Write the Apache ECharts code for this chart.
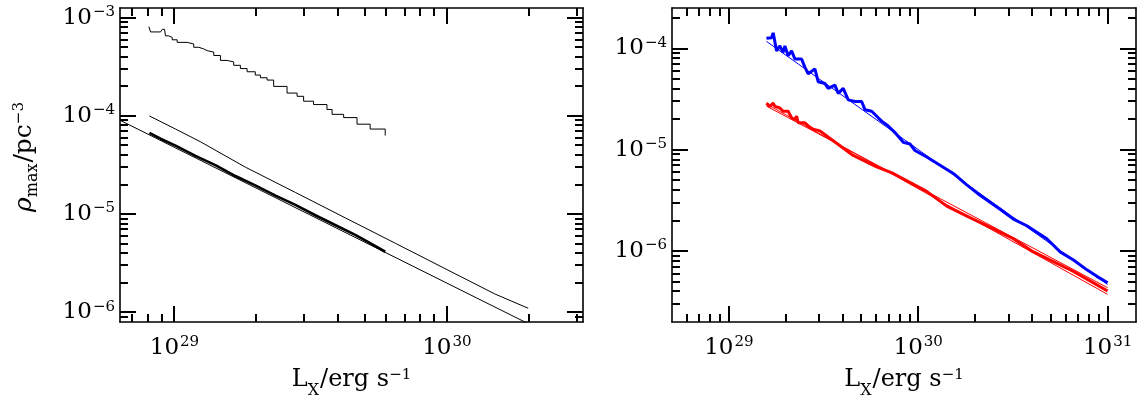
<!DOCTYPE html>
<html><head><meta charset="utf-8">
<script src="https://cdn.jsdelivr.net/npm/echarts@6/dist/echarts.min.js"></script>
<style>html,body{margin:0;padding:0;background:#fff}#c{width:1138px;height:404px}</style>
</head><body><div id="c"></div>
<script>
const FONT = 'DejaVu Serif';

// ---------- Left panel data (L_X [erg/s], rho_max [pc^-3]) ----------
const leftTopCurve = [
 [8.05e28,8.13e-4],[8.17e28,7.18e-4],[8.89e28,7.18e-4],[9.02e28,7.64e-4],[9.19e28,7.76e-4],
 [9.27e28,6.55e-4],[9.53e28,6.31e-4],[9.81e28,5.97e-4],[1.023e29,5.62e-4],[1.113e29,5.41e-4],
 [1.177e29,5.01e-4],[1.228e29,4.82e-4],[1.28e29,4.63e-4],[1.318e29,4.47e-4],[1.394e29,4.13e-4],
 [1.475e29,3.68e-4],[1.561e29,3.55e-4],[1.65e29,3.28e-4],[1.746e29,3.04e-4],[1.848e29,2.82e-4],
 [1.98e29,2.61e-4],[2.068e29,2.45e-4],[2.188e29,2.32e-4],[2.313e29,2.0e-4],[2.59e29,1.71e-4],
 [2.82e29,1.585e-4],[2.98e29,1.413e-4],[3.24e29,1.306e-4],[3.63e29,1.164e-4],[3.79e29,1.038e-4],
 [4.18e29,9.62e-5],[4.68e29,8.24e-5],[5.23e29,7.35e-5],[5.94e29,6.31e-5]
];
const leftMidCurve = [
 [8.09e28,1.0e-4],[1.009e29,7.35e-5],[1.245e29,5.46e-5],[1.82e29,3.01e-5],[2.78e29,1.66e-5],
 [4.24e29,9.14e-6],[6.47e29,5.04e-6],[9.85e29,2.78e-6],[1.50e30,1.535e-6],[1.99e30,1.096e-6]
];
const leftThickCurve = [
 [8.09e28,6.73e-5],[8.89e28,5.86e-5],[1.009e29,4.99e-5],[1.194e29,3.92e-5],[1.413e29,3.15e-5],
 [1.674e29,2.44e-5],[1.98e29,1.963e-5],[2.35e29,1.542e-5],[2.78e29,1.239e-5],[3.29e29,9.73e-6],
 [3.89e29,7.73e-6],[4.61e29,6.14e-6],[5.23e29,5.05e-6],[5.94e29,4.13e-6]
];
const leftFitLine = [[6.31e28,9.04e-5],[2.0e30,7.59e-7]];

// ---------- Right panel data ----------
const ipsCurve = [
 [1.58e29,1.26e-4],[1.682e29,1.278e-4],[1.715e29,1.428e-4],[1.75e29,1.375e-4],[1.787e29,9.48e-5],
 [1.86e29,1.06e-4],[1.936e29,9.15e-5],[1.977e29,1.06e-4],[2.058e29,8.48e-5],[2.145e29,9.48e-5],
 [2.233e29,7.88e-5],[2.423e29,7.88e-5],[2.52e29,6.55e-5],[2.625e29,5.64e-5],[2.848e29,6.30e-5],
 [2.965e29,4.69e-5],[3.217e29,4.51e-5],[3.348e29,4.04e-5],[3.633e29,4.35e-5],[3.782e29,3.61e-5],
 [4.019e29,4.04e-5],[4.272e29,3.11e-5],[4.634e29,3.00e-5],[5.028e29,3.00e-5],[5.233e29,2.49e-5],
 [5.68e29,2.40e-5],[6.153e29,2.07e-5],[6.414e29,1.92e-5],[6.95e29,1.72e-5],[7.54e29,1.48e-5],
 [8.34e29,1.185e-5],[9.05e29,1.14e-5],[9.62e29,9.84e-6],[1.109e30,8.48e-6],[1.304e30,7.05e-6],
 [1.532e30,5.84e-6],[1.805e30,4.51e-6],[2.121e30,3.56e-6],[2.706e30,2.585e-6],[3.18e30,2.07e-6],
 [3.745e30,1.78e-6],[4.778e30,1.324e-6],[5.618e30,9.82e-7],[6.604e30,8.16e-7],[7.775e30,6.53e-7],
 [8.779e30,5.63e-7],[1.0e31,4.86e-7]
];
const polarsCurve = [
 [1.58e29,2.89e-5],[1.647e29,2.68e-5],[1.715e29,2.89e-5],[1.75e29,2.68e-5],[1.86e29,2.585e-5],
 [1.936e29,2.40e-5],[2.058e29,2.40e-5],[2.145e29,2.07e-5],[2.233e29,1.99e-5],[2.28e29,2.15e-5],
 [2.325e29,1.85e-5],[2.52e29,1.85e-5],[2.625e29,1.72e-5],[2.79e29,1.593e-5],[3.027e29,1.537e-5],
 [3.558e29,1.23e-5],[4.539e29,8.80e-6],[6.035e29,6.79e-6],[7.387e29,5.84e-6],[1.109e30,3.89e-6],
 [1.415e30,2.78e-6],[1.878e30,2.14e-6],[2.494e30,1.655e-6],[3.18e30,1.324e-6],[4.057e30,9.82e-7],
 [5.178e30,7.86e-7],[6.604e30,6.29e-7],[8.424e30,4.86e-7],[1.0e31,4.03e-7]
];
const ipsFit = [[1.58e29,1.177e-4],[1.0e31,4.68e-7]];
const polarsFitA = [[1.58e29,2.70e-5],[1.0e31,4.35e-7]];
const polarsFitB = [[1.58e29,2.83e-5],[1.0e31,3.74e-7]];

const seriesNames = ['IPs', 'Polars'];

// ---------- Axes ranges & ticks ----------
const leftXRange = [Math.pow(10, 28.8), Math.pow(10, 30.5)];
const leftYRange = [Math.pow(10, -6.1), Math.pow(10, -2.9)];
const rightXRange = [Math.pow(10, 28.7), Math.pow(10, 31.15)];
const rightYRange = [Math.pow(10, -6.7), Math.pow(10, -3.6)];

const leftXMajor = [1e29, 1e30];
const leftXLabels = ['29', '30'];
const leftXMinor = [7e28,8e28,9e28,2e29,3e29,4e29,5e29,6e29,7e29,8e29,9e29,2e30,3e30];
const leftYMajor = [1e-6, 1e-5, 1e-4, 1e-3];
const leftYLabels = ['\u22126', '\u22125', '\u22124', '\u22123'];
const leftYMinor = [9e-7,2e-6,3e-6,4e-6,5e-6,6e-6,7e-6,8e-6,9e-6,2e-5,3e-5,4e-5,5e-5,6e-5,7e-5,8e-5,9e-5,2e-4,3e-4,4e-4,5e-4,6e-4,7e-4,8e-4,9e-4];

const rightXMajor = [1e29, 1e30, 1e31];
const rightXLabels = ['29', '30', '31'];
const rightXMinor = [6e28,7e28,8e28,9e28,2e29,3e29,4e29,5e29,6e29,7e29,8e29,9e29,2e30,3e30,4e30,5e30,6e30,7e30,8e30,9e30];
const rightYMajor = [1e-6, 1e-5, 1e-4];
const rightYLabels = ['\u22126', '\u22125', '\u22124'];
const rightYMinor = [3e-7,4e-7,5e-7,6e-7,7e-7,8e-7,9e-7,2e-6,3e-6,4e-6,5e-6,6e-6,7e-6,8e-6,9e-6,2e-5,3e-5,4e-5,5e-5,6e-5,7e-5,8e-5,9e-5,2e-4];

// ---------- helpers ----------
const tickRich = {
  a: {fontFamily: FONT, fontSize: 23, color: '#000', lineHeight: 26},
  b: {fontFamily: FONT, fontSize: 15, color: '#000', lineHeight: 17, verticalAlign: 'top', padding: [0, 0, 0, 1]}
};
function powLabel(majors, labels) {
  return function (v) {
    let idx = -1;
    for (let i = 0; i < majors.length; i++) {
      if (Math.abs(majors[i] - v) / majors[i] < 1e-6) idx = i;
    }
    return idx < 0 ? '' : '{a|10}{b|' + labels[idx] + '}';
  };
}
function axesFor(dim, gridIndex, range, majors, labels, extra) {
  const posA = dim === 'x' ? 'bottom' : 'left';
  const posB = dim === 'x' ? 'top' : 'right';
  const base = {type: 'log', gridIndex: gridIndex, min: range[0], max: range[1],
    splitLine: {show: false}, axisTick: {show: false}};
  const line = {show: true, onZero: false, lineStyle: {color: '#000', width: 1.6}};
  const main = Object.assign({}, base, {position: posA, axisLine: line,
    axisLabel: {show: true, customValues: majors, formatter: powLabel(majors, labels), rich: tickRich,
      margin: dim === 'x' ? 13 : 5}}, extra || {});
  const opp = Object.assign({}, base, {position: posB, axisLine: line, axisLabel: {show: false}});
  return [main, opp];
}

// Tick marks on both frame edges, placed through the axis scale (custom series).
function tickSeries(dim, axisIdx, values, otherRange, len) {
  const mid = Math.sqrt(otherRange[0] * otherRange[1]);
  return {
    type: 'custom', coordinateSystem: 'cartesian2d', xAxisIndex: axisIdx, yAxisIndex: axisIdx,
    animation: false, clip: false, z: 6,
    data: values.map(function (v) { return dim === 'x' ? [v, mid] : [mid, v]; }),
    renderItem: function (params, api) {
      const cs = params.coordSys;
      const p = api.coord([api.value(0), api.value(1)]);
      const st = {stroke: '#000', lineWidth: 2, fill: null};
      if (dim === 'x') {
        const x = Math.round(p[0]);
        return {type: 'group', children: [
          {type: 'line', shape: {x1: x, y1: cs.y + cs.height, x2: x, y2: cs.y + cs.height - len}, style: st},
          {type: 'line', shape: {x1: x, y1: cs.y, x2: x, y2: cs.y + len}, style: st}
        ]};
      }
      const y = Math.round(p[1]);
      return {type: 'group', children: [
        {type: 'line', shape: {x1: cs.x, y1: y, x2: cs.x + len, y2: y}, style: st},
        {type: 'line', shape: {x1: cs.x + cs.width, y1: y, x2: cs.x + cs.width - len, y2: y}, style: st}
      ]};
    }
  };
}

const xNameRich = {
  l: {fontFamily: FONT, fontSize: 24, color: '#000', lineHeight: 26, verticalAlign: 'top'},
  x: {fontFamily: FONT, fontSize: 16, color: '#000', lineHeight: 16, verticalAlign: 'top', padding: [15, 1, 0, 0]},
  t: {fontFamily: FONT, fontSize: 24, color: '#000', lineHeight: 26, verticalAlign: 'top'},
  u: {fontFamily: FONT, fontSize: 15, color: '#000', lineHeight: 15, verticalAlign: 'top'}
};
const xName = '{l|L}{x|X}{t|/erg s}{u|\u22121}';
const yNameRich = {
  r: {fontFamily: FONT, fontSize: 25, fontStyle: 'italic', color: '#000', lineHeight: 26, verticalAlign: 'top'},
  s: {fontFamily: FONT, fontSize: 16, color: '#000', lineHeight: 16, verticalAlign: 'top', padding: [13, 1, 0, 0]},
  t: {fontFamily: FONT, fontSize: 25, color: '#000', lineHeight: 26, verticalAlign: 'top'},
  u: {fontFamily: FONT, fontSize: 15, color: '#000', lineHeight: 15, verticalAlign: 'top'}
};
const yName = '{r|\u03c1}{s|max}{t|/pc}{u|\u22123}';

const xNameOpt = {name: xName, nameLocation: 'middle', nameGap: 46, nameTextStyle: {rich: xNameRich}};
const yNameOpt = {name: yName, nameLocation: 'middle', nameRotate: 90, nameGap: 82,
  nameTextStyle: {rich: yNameRich, padding: [0, 0, 0, 16]}};

const xAxes = [].concat(
  axesFor('x', 0, leftXRange, leftXMajor, leftXLabels, xNameOpt),
  axesFor('x', 1, rightXRange, rightXMajor, rightXLabels, xNameOpt)
);
const yAxes = [].concat(
  axesFor('y', 0, leftYRange, leftYMajor, leftYLabels, yNameOpt),
  axesFor('y', 1, rightYRange, rightYMajor, rightYLabels, null)
);

function lineSeries(data, xi, color, width, opts) {
  return Object.assign({type: 'line', data: data, xAxisIndex: xi, yAxisIndex: xi,
    showSymbol: false, symbol: 'none', lineStyle: {color: color, width: width}, itemStyle: {color: color},
    animation: false, clip: true, z: 3}, opts || {});
}
function labelled(data, text) {
  return data.map(function (p, i) {
    if (i !== 0) return p;
    return {value: p, symbol: 'circle', symbolSize: 1, itemStyle: {opacity: 0},
      label: {show: true, position: 'left', distance: 9, formatter: text,
        fontFamily: FONT, fontSize: 19, color: '#000'}};
  });
}

const option = {
  backgroundColor: '#fff',
  animation: false,
  grid: [
    {left: 120, top: 8, width: 463, height: 320},
    {left: 672, top: 8, width: 464, height: 320}
  ],
  xAxis: xAxes,
  yAxis: yAxes,
  series: [
    lineSeries(leftTopCurve, 0, '#000', 1, {step: 'end'}),
    lineSeries(leftMidCurve, 0, '#000', 1),
    lineSeries(leftThickCurve, 0, '#000', 2.6),
    lineSeries(leftFitLine, 0, '#000', 1),
    lineSeries(labelled(ipsCurve, seriesNames[0]), 2, '#0000ff', 3, {showSymbol: true}),
    lineSeries(labelled(polarsCurve, seriesNames[1]), 2, '#ff0000', 3, {showSymbol: true}),
    lineSeries(ipsFit, 2, '#0000ff', 1),
    lineSeries(polarsFitA, 2, '#ff0000', 1),
    lineSeries(polarsFitB, 2, '#ff0000', 1),
    tickSeries('x', 0, leftXMajor, leftYRange, 16),
    tickSeries('x', 0, leftXMinor, leftYRange, 8),
    tickSeries('y', 0, leftYMajor, leftXRange, 16),
    tickSeries('y', 0, leftYMinor, leftXRange, 8),
    tickSeries('x', 2, rightXMajor, rightYRange, 16),
    tickSeries('x', 2, rightXMinor, rightYRange, 8),
    tickSeries('y', 2, rightYMajor, rightXRange, 16),
    tickSeries('y', 2, rightYMinor, rightXRange, 8)
  ]
};
const chart = echarts.init(document.getElementById('c'), null, {renderer: 'canvas'});
chart.setOption(option);
</script>
</body></html>
